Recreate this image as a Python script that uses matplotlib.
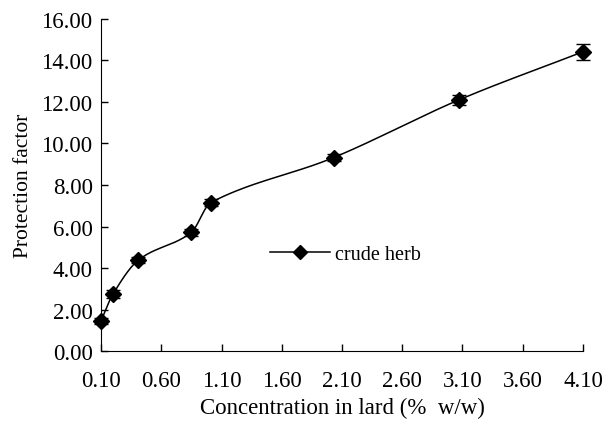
import numpy as np
import matplotlib.pyplot as plt

conc = [0.10, 0.20, 0.41, 0.85, 1.01, 2.03, 3.07, 4.10]
pf = [1.45, 2.75, 4.38, 5.72, 7.15, 9.32, 12.10, 14.42]
err = [0.15, 0.18, 0.15, 0.18, 0.18, 0.15, 0.25, 0.38]

xticks = [0.10, 0.60, 1.10, 1.60, 2.10, 2.60, 3.10, 3.60, 4.10]
yticks = [0, 2, 4, 6, 8, 10, 12, 14, 16]


def smooth_curve(x, y, n=40):
    # cubic hermite through the points, tangents from the neighbours
    x = np.asarray(x, float)
    y = np.asarray(y, float)
    m = np.empty_like(y)
    m[1:-1] = (y[2:] - y[:-2]) / (x[2:] - x[:-2])
    m[0] = (y[1] - y[0]) / (x[1] - x[0])
    m[-1] = (y[-1] - y[-2]) / (x[-1] - x[-2])
    xs, ys = [], []
    t = np.linspace(0, 1, n)
    for i in range(len(x) - 1):
        h = x[i + 1] - x[i]
        h00 = 2 * t ** 3 - 3 * t ** 2 + 1
        h10 = t ** 3 - 2 * t ** 2 + t
        h01 = -2 * t ** 3 + 3 * t ** 2
        h11 = t ** 3 - t ** 2
        xs.extend(x[i] + h * t)
        ys.extend(h00 * y[i] + h10 * h * m[i] + h01 * y[i + 1] + h11 * h * m[i + 1])
    return np.array(xs), np.array(ys)


plt.rcParams['font.family'] = ['Liberation Serif', 'DejaVu Serif']

fig = plt.figure(figsize=(6.14, 4.27), dpi=100)
ax = fig.add_axes([0.1645, 0.1756, 0.785, 0.7776])

sx, sy = smooth_curve(conc, pf)
ax.plot(sx, sy, color='black', lw=1.1, clip_on=False)
ax.errorbar(conc, pf, yerr=err, fmt='none', ecolor='black', elinewidth=1,
            capsize=5, capthick=1, clip_on=False)
ax.plot(conc, pf, 'D', color='black', ms=8.6, clip_on=False, zorder=3)
ax.plot([], [], '-D', color='black', ms=7.5, lw=1.1, label='crude herb')

ax.set_xlim(0.10, 4.10)
ax.set_ylim(0, 16)
ax.set_xticks(xticks)
ax.set_xticklabels([f'{v:.2f}' for v in xticks])
ax.set_yticks(yticks)
ax.set_yticklabels([f'{v:.2f}' for v in yticks])
ax.tick_params(direction='in', length=5, width=1, labelsize=16.5)
ax.tick_params(axis='x', pad=14)
ax.tick_params(axis='y', pad=6)
ax.spines['top'].set_visible(False)
ax.spines['right'].set_visible(False)
ax.set_xlabel('Concentration in lard (%  w/w)', fontsize=16.5, labelpad=4)
ax.set_ylabel('Protection factor', fontsize=15.5, labelpad=6)

ax.legend(loc='center left', bbox_to_anchor=(0.35, 0.29), frameon=False,
          fontsize=14.5, handlelength=3.0, handletextpad=0.25,
          borderaxespad=0, borderpad=0)

fig.savefig('out.png', dpi=100)
